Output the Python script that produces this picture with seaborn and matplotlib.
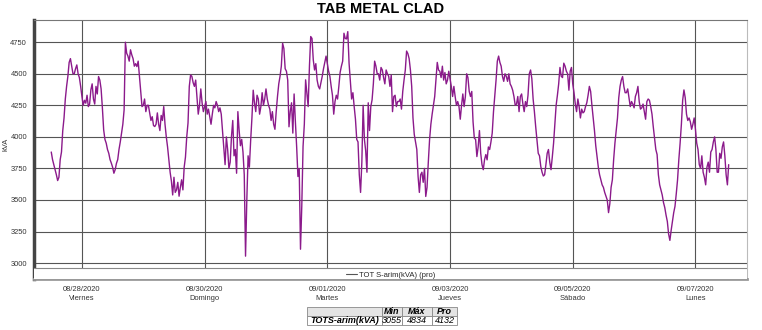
import matplotlib
matplotlib.use("Agg")
import matplotlib.pyplot as plt
import matplotlib.dates as mdates
from matplotlib.lines import Line2D
from matplotlib.patches import Rectangle
import pandas as pd
import seaborn as sns

# ---------------- data (half-hourly readings) ----------------
start = "2020-08-27 12:00"
aug27 = [3880, 3820, 3780, 3740, 3700, 3654, 3680, 3820, 3880, 4050, 4150, 4300,
         4400, 4480, 4590, 4620, 4560, 4500, 4500, 4540, 4570, 4500, 4470, 4400]
aug28 = [4320, 4250, 4290, 4267, 4330, 4240, 4260, 4373, 4420, 4300, 4260, 4400,
         4340, 4478, 4450, 4380, 4230, 4056, 3980, 3950, 3900, 3870, 3820, 3792,
         3760, 3712, 3740, 3790, 3820, 3900, 3960, 4030, 4100, 4214, 4750, 4663,
         4640, 4600, 4690, 4650, 4620, 4560, 4580, 4557, 4600, 4480, 4350, 4240]
aug29 = [4250, 4300, 4200, 4250, 4250, 4188, 4130, 4160, 4090, 4082, 4100, 4190,
         4100, 4050, 4170, 4130, 4240, 4100, 4000, 3920, 3820, 3720, 3650, 3540,
         3680, 3560, 3580, 3640, 3530, 3600, 3660, 3580, 3760, 3840, 4000, 4110,
         4400, 4490, 4480, 4430, 4400, 4450, 4310, 4180, 4250, 4380, 4270, 4200]
aug30 = [4240, 4280, 4180, 4220, 4160, 4100, 4180, 4250, 4230, 4280, 4250, 4200,
         4230, 4180, 4050, 3924, 3780, 4000, 3900, 3750, 3800, 4003, 4130, 3850,
         3900, 3712, 4200, 4050, 3930, 3980, 3880, 3700, 3055, 3500, 3850, 3760,
         3970, 4150, 4370, 4270, 4200, 4330, 4300, 4180, 4240, 4350, 4250, 4300]
aug31 = [4380, 4300, 4250, 4220, 4130, 4200, 4100, 4060, 4200, 4320, 4420, 4480,
         4560, 4742, 4700, 4540, 4520, 4450, 4080, 4200, 4270, 4030, 4340, 4120,
         3920, 3686, 3750, 3110, 3450, 3924, 4100, 4452, 4350, 4240, 4560, 4795,
         4780, 4610, 4530, 4580, 4450, 4400, 4380, 4430, 4480, 4540, 4590, 4640]
sep01 = [4580, 4520, 4480, 4400, 4330, 4180, 4280, 4330, 4300, 4400, 4510, 4560,
         4600, 4821, 4780, 4776, 4834, 4584, 4440, 4300, 4350, 4240, 4140, 3980,
         3960, 3700, 3560, 3800, 4250, 3980, 3890, 3720, 4270, 4050, 4240, 4293,
         4420, 4600, 4560, 4500, 4500, 4450, 4550, 4530, 4470, 4420, 4530, 4500]
sep02 = [4480, 4400, 4490, 4200, 4320, 4330, 4240, 4280, 4280, 4300, 4220, 4360,
         4450, 4530, 4680, 4660, 4620, 4530, 4400, 4150, 4020, 3960, 3900, 3686,
         3560, 3700, 3720, 3640, 3750, 3528, 3600, 3800, 3980, 4100, 4180, 4250,
         4320, 4452, 4590, 4530, 4520, 4470, 4560, 4450, 4510, 4420, 4450, 4520]
sep03 = [4460, 4400, 4320, 4400, 4320, 4250, 4280, 4240, 4140, 4250, 4340, 4240,
         4320, 4500, 4470, 4360, 4320, 4360, 4120, 3990, 3980, 3844, 3920, 4050,
         3870, 3780, 3740, 3820, 3860, 3818, 3920, 3900, 3960, 4030, 4200, 4320,
         4450, 4600, 4640, 4590, 4560, 4480, 4440, 4500, 4480, 4440, 4500, 4420]
sep04 = [4400, 4370, 4320, 4250, 4260, 4320, 4200, 4320, 4340, 4260, 4200, 4280,
         4240, 4330, 4500, 4530, 4460, 4300, 4200, 4082, 3980, 3870, 3850, 3765,
         3720, 3690, 3700, 3780, 3870, 3900, 3800, 3740, 3840, 3950, 4100, 4250,
         4330, 4420, 4550, 4480, 4470, 4584, 4560, 4520, 4500, 4370, 4520, 4550]
sep05 = [4420, 4350, 4260, 4200, 4300, 4240, 4150, 4220, 4190, 4200, 4240, 4270,
         4330, 4400, 4360, 4250, 4150, 4050, 3930, 3844, 3760, 3700, 3660, 3620,
         3600, 3560, 3530, 3500, 3400, 3470, 3600, 3660, 3820, 3950, 4050, 4150,
         4310, 4400, 4450, 4478, 4400, 4350, 4350, 4380, 4310, 4240, 4280, 4260]
sep06 = [4230, 4320, 4350, 4400, 4280, 4220, 4230, 4260, 4200, 4140, 4280, 4300,
         4290, 4240, 4180, 4080, 3990, 3900, 3860, 3700, 3620, 3580, 3540, 3480,
         3440, 3380, 3330, 3230, 3180, 3260, 3330, 3400, 3450, 3550, 3660, 3820,
         3950, 4100, 4290, 4372, 4310, 4180, 4130, 4150, 4120, 4060, 4100, 4150]
sep07 = [4060, 3950, 3900, 3780, 3750, 3850, 3720, 3680, 3620, 3760, 3800, 3720,
         3880, 3900, 3960, 4000, 3900, 3720, 3720, 3870, 3830, 3920, 3960, 3850,
         3700, 3620, 3780]

tick_dates = ["2020-08-28", "2020-08-30", "2020-09-01", "2020-09-03", "2020-09-05", "2020-09-07"]
tick_days = ["Viernes", "Domingo", "Martes", "Jueves", "Sábado", "Lunes"]
y_ticks = [3000, 3250, 3500, 3750, 4000, 4250, 4500, 4750]

series_name = "TOT S-arim(kVA) (pro)"
table_label = "TOTS-arim(kVA)"
table_cols = ["Min", "Máx", "Pro"]
table_vals = ["3055", "4834", "4132"]

values = aug27 + aug28 + aug29 + aug30 + aug31 + sep01 + sep02 + sep03 + sep04 + sep05 + sep06 + sep07
times = pd.date_range(start, periods=len(values), freq="30min")
df = pd.DataFrame({"time": times, "kVA": values})

# ---------------- figure ----------------
sns.set_style("white")
plt.rcParams['font.family'] = ['Liberation Sans', 'DejaVu Sans']

W, H = 762, 330
fig = plt.figure(figsize=(W / 100, H / 100), dpi=100)
ax = fig.add_axes([34 / W, 1 - 279 / H, (747 - 34) / W, (279 - 20) / H])

sns.lineplot(data=df, x="time", y="kVA", ax=ax, color="#8b1a8b", linewidth=1.0, legend=False)

ax.set_xlim(pd.Timestamp("2020-08-27 05:15"), pd.Timestamp("2020-09-07 20:10"))
ax.set_ylim(2874, 4926)

ax.set_yticks(y_ticks)
ax.set_yticklabels([str(v) for v in y_ticks], fontsize=5.4, color="#333333")
ax.set_xticks(pd.to_datetime(tick_dates))
ax.set_xticklabels([f"{pd.Timestamp(d):%m/%d/%Y}\n{n}" for d, n in zip(tick_dates, tick_days)],
                   fontsize=5.4, linespacing=1.45, color="#333333")
ax.xaxis.set_minor_locator(mdates.DayLocator())
ax.tick_params(axis="x", which="both", length=2, pad=3, color="#666")
ax.tick_params(axis="y", length=2, pad=3, color="#666")

ax.grid(True, which="major", color="#555555", linewidth=0.8)
ax.set_axisbelow(True)

ax.set_xlabel("")
ax.set_ylabel("kVA", fontsize=5.4, color="#333333")
ax.yaxis.set_label_coords(-0.034, 0.52)

# legend strip at bottom of the frame
ax.add_patch(Rectangle((0, 0), 1, (2960 - 2874) / (4926 - 2874), transform=ax.transAxes,
                       facecolor="white", edgecolor="none", zorder=3))
ax.axhline(2960, color="#888888", linewidth=0.8, zorder=4)
leg = ax.legend(handles=[Line2D([], [], color="#555555", linewidth=0.8)], labels=[series_name],
                loc="lower center", bbox_to_anchor=(0.5, -0.025), frameon=False, fontsize=5.5,
                handlelength=1.4, handletextpad=0.3)
leg.set_zorder(5)

for side, (lw, col) in {"left": (2.5, "#444444"), "bottom": (2.0, "#999999"),
                        "top": (0.8, "#777777"), "right": (0.8, "#bbbbbb")}.items():
    ax.spines[side].set_linewidth(lw)
    ax.spines[side].set_color(col)

fig.text(381 / W, 1 - 9 / H, "TAB METAL CLAD", ha="center", va="center",
         fontsize=10.5, fontweight="bold", color="black")

# summary table
tax = fig.add_axes([307 / W, 1 - 325 / H, (457 - 307) / W, (325 - 307) / H])
tax.axis("off")
tbl = tax.table(cellText=[[""] + table_cols, [table_label] + table_vals],
                colWidths=[75, 20, 30, 25], bbox=[0, 0, 1, 1], cellLoc="center")
tbl.auto_set_font_size(False)
for (r, c), cell in tbl.get_celld().items():
    cell.set_edgecolor("#888888")
    cell.set_linewidth(0.6)
    cell.PAD = 0.03
    txt = cell.get_text()
    txt.set_fontsize(6.5)
    txt.set_fontstyle("italic")
    txt.set_color("black")
    if r == 0:
        cell.set_facecolor("#e4e4e4")
        txt.set_fontweight("bold")
    if c == 0 and r == 1:
        txt.set_fontweight("bold")

fig.savefig("out.png", dpi=100)
